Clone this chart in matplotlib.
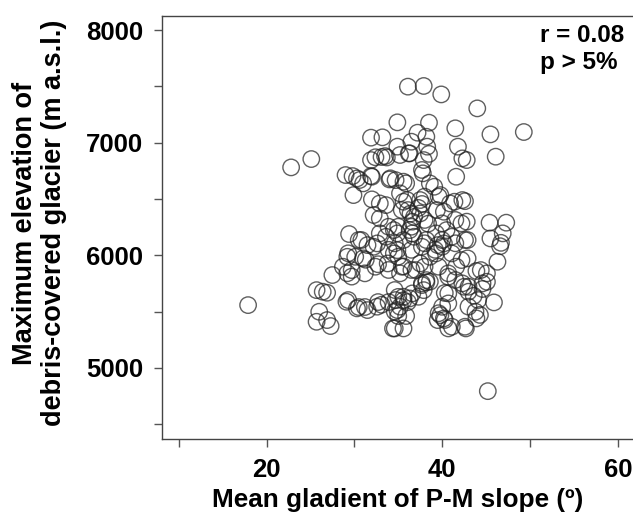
import matplotlib.pyplot as plt
from matplotlib.ticker import MultipleLocator

# mean gradient of P-M slope (deg) and max elevation of debris-covered glacier (m)
slope = [17.9, 22.8, 25.1, 45.2, 49.3, 36.1, 37.9, 39.9, 44.0, 45.5,
         46.1, 34.9, 38.5, 41.5, 37.2, 31.9, 33.2, 38.2, 36.5, 34.9,
         38.3, 41.8, 36.2, 35.2, 31.9, 32.4, 33.1, 33.7, 42.3, 42.8,
         37.9, 38.5, 29.0, 29.8, 30.3, 31.0, 31.9, 34.0, 34.7, 35.6,
         35.9, 37.8, 37.7, 38.6, 39.1, 41.6, 29.9, 39.8, 41.4, 42.3,
         42.6, 37.5, 37.7, 38.0, 37.3, 32.0, 32.9, 33.6, 35.2, 35.6,
         36.0, 40.2, 32.2, 32.9, 36.1, 36.4, 36.8, 36.6, 37.5, 38.4,
         39.4, 39.6, 42.8, 45.4, 47.3, 46.9, 45.5, 46.7, 46.6, 42.9,
         46.3, 29.4, 30.8, 32.9, 33.6, 34.5, 34.9, 35.6, 36.3, 36.6,
         36.8, 39.3, 40.5, 41.1, 38.2, 31.5, 32.2, 32.6, 29.2, 30.1,
         31.0, 28.7, 29.7, 29.2, 27.5, 25.7, 26.4, 26.9, 29.1, 30.3,
         31.5, 32.6, 33.1, 26.0, 25.7, 26.9, 27.3, 34.7, 34.9, 35.2,
         34.4, 35.6, 35.9, 40.0, 39.8, 39.5, 40.2, 40.7, 42.7, 43.9,
         43.8, 45.9, 40.7, 42.5, 43.0, 44.4, 45.1, 44.6, 45.1, 44.1,
         43.6, 42.9, 41.6, 40.7, 38.2, 37.7, 37.9, 38.6, 36.6, 36.3,
         35.6, 37.0, 35.2, 35.6, 33.8, 40.0, 39.5, 40.2, 39.3, 38.6,
         37.7, 34.5, 34.9, 41.1, 37.5, 32.0, 33.5, 30.6, 34.1, 35.4,
         36.5, 38.0, 40.0, 41.5, 42.2, 33.9, 35.0, 30.5, 29.3, 31.3,
         32.7, 33.9, 34.6, 35.0, 36.5, 38.0, 39.2, 40.0, 41.5, 42.6,
         42.2, 40.7, 39.6, 38.0, 36.5, 35.4, 33.9, 32.4, 31.2, 29.7,
         34.6, 35.0, 35.6, 36.1, 37.7, 38.2, 37.3, 29.3, 30.5, 31.2,
         32.7, 33.9, 34.6, 35.0, 34.6, 40.3, 40.7, 39.6, 40.3, 41.1,
         42.6, 41.5, 42.3, 43.0, 43.0, 43.9, 44.6, 44.3, 36.3, 40.9]
elev = [5557, 6780, 6854, 4793, 7094, 7497, 7503, 7428, 7304, 7073,
        6875, 7180, 7177, 7127, 7088, 7044, 7047, 7052, 7008, 6964,
        6964, 6964, 6904, 6890, 6845, 6870, 6872, 6868, 6860, 6845,
        6845, 6900, 6712, 6703, 6682, 6638, 6703, 6673, 6667, 6653,
        6638, 6727, 6757, 6638, 6608, 6697, 6534, 6534, 6475, 6490,
        6480, 6490, 6455, 6520, 6420, 6496, 6460, 6445, 6549, 6475,
        6490, 6386, 6357, 6327, 6401, 6370, 6340, 6298, 6371, 6280,
        6401, 6520, 6298, 6289, 6289, 6194, 6149, 6110, 6080, 6135,
        5942, 6188, 6135, 6194, 6164, 6223, 6194, 6135, 6223, 6194,
        6164, 6194, 6223, 6164, 6135, 6090, 6075, 6105, 5986, 5986,
        5972, 5898, 5868, 5840, 5824, 5690, 5676, 5667, 5587, 5528,
        5513, 5543, 5560, 5498, 5409, 5424, 5371, 5602, 5513, 5543,
        5350, 5350, 5460, 5542, 5468, 5424, 5439, 5350, 5350, 5439,
        5498, 5581, 5661, 5720, 5676, 5868, 5839, 5750, 5764, 5602,
        5640, 5972, 5898, 5809, 5779, 5735, 5690, 5765, 5661, 5616,
        5631, 5868, 5839, 5900, 5927, 6075, 6090, 6105, 6016, 5986,
        6075, 6016, 6045, 6016, 5927, 6697, 6880, 6668, 6683, 6401,
        6253, 6313, 6283, 6313, 6283, 6253, 6253, 6135, 6017, 5960,
        5920, 6048, 6106, 5987, 6048, 6106, 6048, 6135, 6106, 6135,
        5957, 5839, 5898, 5898, 5869, 5898, 5869, 5898, 5839, 5810,
        5691, 5630, 5600, 5584, 5750, 5760, 5631, 5602, 5540, 5540,
        5584, 5584, 5500, 5460, 5350, 5665, 5572, 5485, 5425, 5365,
        5365, 5780, 5750, 5720, 5543, 5860, 5700, 5470, 6905, 6460]

plt.rcParams['font.family'] = ['Liberation Sans', 'DejaVu Sans']
plt.rcParams['font.weight'] = 'bold'

fig = plt.figure(figsize=(6.33, 5.12), dpi=100)
# axes run past the right edge of the picture, as in the cropped original
ax = fig.add_axes([161.6 / 633, 73 / 512, 482.5 / 633, 423.3 / 512])

ax.scatter(slope, elev, s=140, facecolors='none', edgecolors='#222222',
           linewidths=1.0, alpha=0.72)

ax.set_xlim(8.05, 63.0)
ax.set_ylim(4368, 8127)

ax.xaxis.set_major_locator(MultipleLocator(20))
ax.xaxis.set_minor_locator(MultipleLocator(10))
ax.yaxis.set_major_locator(MultipleLocator(1000))
ax.yaxis.set_minor_locator(MultipleLocator(500))
ax.tick_params(which='both', direction='out', length=5.5, width=1,
               color='#555555', labelsize=18.5, pad=8)

for side in ['left', 'bottom', 'top', 'right']:
    ax.spines[side].set_color('#444444')
    ax.spines[side].set_linewidth(1)

ax.set_ylabel('Maximum elevation of\ndebris-covered glacier (m a.s.l.)',
              fontsize=19.5, fontweight='bold', linespacing=1.15)
ax.yaxis.set_label_coords(-0.197, 0.51)
ax.set_xlabel('Mean gladient of P-M slope (º)', fontsize=18.8, fontweight='bold')
ax.xaxis.set_label_coords(0.489, -0.1146)

fig.text(540 / 633, 1 - 41.7 / 512, 'r = 0.08', fontsize=17.5,
         fontweight='bold', va='baseline', ha='left')
fig.text(540 / 633, 1 - 69.3 / 512, 'p > 5%', fontsize=17.5,
         fontweight='bold', va='baseline', ha='left')

fig.savefig('out.png', dpi=100)
